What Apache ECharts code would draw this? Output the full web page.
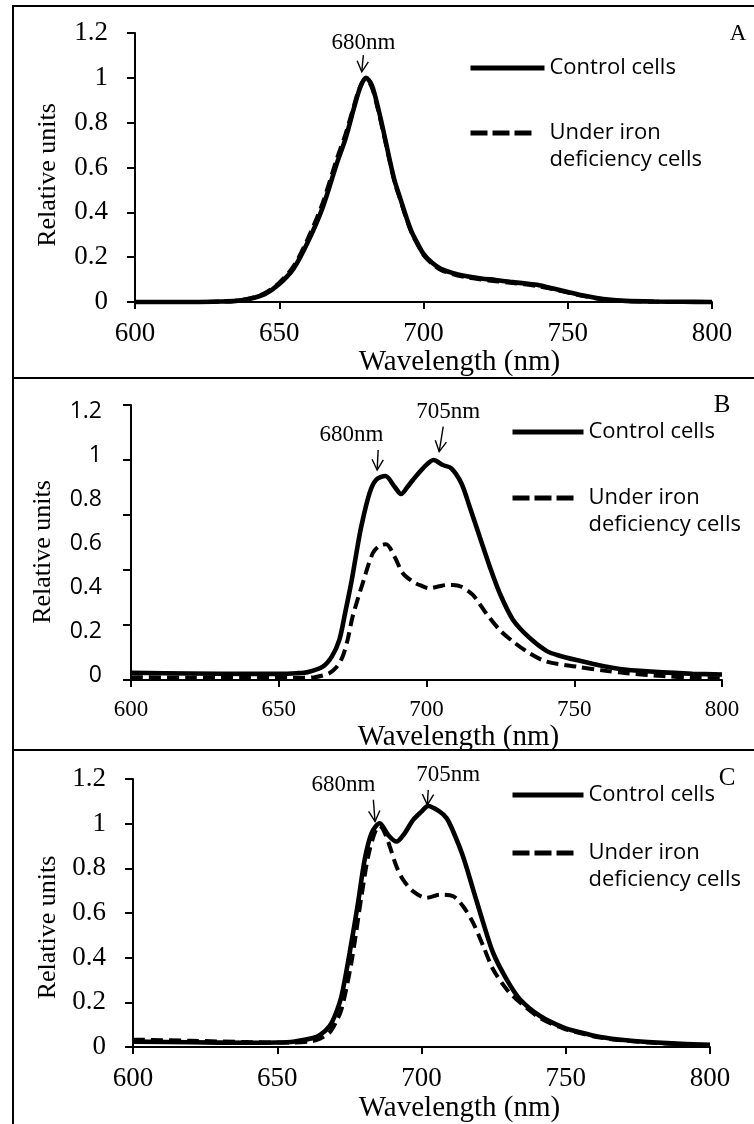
<!DOCTYPE html>
<html>
<head>
<meta charset="utf-8">
<script src="https://cdn.jsdelivr.net/npm/echarts@6/dist/echarts.min.js"></script>
<style>
  html, body { margin: 0; padding: 0; background: #fff; }
  #chart { width: 754px; height: 1124px; }
</style>
</head>
<body>
<div id="chart"></div>
<script>
// ---- panel A ----
var waveA = [600, 610, 620, 630, 635, 640, 645, 650, 655, 660, 665, 670, 673, 676, 678, 680, 682, 684, 686, 688,
  690, 692, 694, 696, 698, 700, 703, 706, 710, 715, 720, 725, 730, 735, 740, 745, 750, 755, 760, 765, 770, 780, 790, 800];
var controlA = [0, 0, 0, 0.002, 0.005, 0.015, 0.035, 0.08, 0.15, 0.27, 0.42, 0.62, 0.73, 0.87, 0.955, 1.0, 0.97, 0.88, 0.77, 0.65,
  0.54, 0.46, 0.38, 0.31, 0.26, 0.215, 0.175, 0.148, 0.13, 0.115, 0.105, 0.098, 0.09, 0.083, 0.075, 0.06, 0.045, 0.03, 0.018, 0.01, 0.005, 0.002, 0.001, 0];
var ironA = [0, 0, 0, 0.002, 0.006, 0.017, 0.04, 0.086, 0.16, 0.285, 0.44, 0.64, 0.75, 0.88, 0.96, 0.995, 0.96, 0.87, 0.76, 0.645,
  0.535, 0.455, 0.375, 0.305, 0.255, 0.21, 0.17, 0.143, 0.125, 0.11, 0.1, 0.093, 0.086, 0.079, 0.07, 0.057, 0.042, 0.028, 0.016, 0.009, 0.004, 0.001, 0, 0];

// ---- panel B ----
var waveControlB = [600, 620, 640, 650, 656, 660, 664.9, 668, 670.5, 672.5, 674.5, 676.2, 677.9, 680.7, 682.9, 686.1, 689.2, 691.4, 693.6, 695.4,
  698.8, 702.4, 705.5, 708.4, 711.8, 714.6, 718, 721.4, 724.8, 729.3, 734.9, 740.6, 745, 750.8, 760, 767, 780, 790, 800];
var controlB = [0.01, 0.007, 0.005, 0.005, 0.008, 0.014, 0.038, 0.085, 0.16, 0.285, 0.418, 0.55, 0.676, 0.828, 0.889, 0.907, 0.858, 0.825, 0.858, 0.889,
  0.942, 0.98, 0.957, 0.942, 0.874, 0.767, 0.63, 0.494, 0.372, 0.251, 0.169, 0.11, 0.088, 0.068, 0.04, 0.025, 0.012, 0.006, 0.002];
var waveIronB = [600, 620, 640, 655, 662, 665, 667.1, 669.5, 671.6, 673.3, 675, 678.4, 681.8, 684, 686.3, 689.2, 692, 695.4, 698, 701,
  704, 706.7, 709, 711.8, 715.7, 720.2, 724.8, 729.3, 734.9, 740.6, 750.8, 760, 767, 780, 790, 800];
var ironB = [-0.01, -0.012, -0.014, -0.014, -0.01, -0.002, 0.008, 0.035, 0.083, 0.16, 0.266, 0.418, 0.555, 0.588, 0.596, 0.539, 0.464, 0.425, 0.408, 0.395,
  0.403, 0.41, 0.41, 0.402, 0.365, 0.281, 0.205, 0.152, 0.099, 0.061, 0.038, 0.02, 0.009, -0.005, -0.012, -0.015];

// ---- panel C ----
var waveControlC = [600, 620, 640, 650, 656, 662.4, 665, 668.2, 670.3, 672.3, 675.1, 678, 680.3, 682.7, 685.5, 688.4, 691.3, 694.2, 697.1, 700,
  702.3, 706.3, 708.7, 711, 714.4, 717.9, 721.4, 724.8, 729.5, 734.1, 741.1, 749.1, 754.9, 762, 771, 780, 790, 800];
var controlC = [0.024, 0.021, 0.019, 0.02, 0.025, 0.04, 0.055, 0.095, 0.15, 0.229, 0.422, 0.645, 0.839, 0.958, 1.002, 0.95, 0.92, 0.958, 1.017, 1.054,
  1.079, 1.054, 1.025, 0.965, 0.853, 0.705, 0.556, 0.422, 0.303, 0.214, 0.139, 0.088, 0.066, 0.045, 0.03, 0.021, 0.014, 0.01];
var waveIronC = [600, 620, 640, 655, 662, 665, 668.2, 670.3, 672.3, 675.7, 679.2, 681.5, 683.8, 685.5, 687.2, 689, 691.3, 693.6, 697.1, 701.7,
  706.3, 711, 714.4, 717.9, 721.4, 724.8, 729.5, 734.1, 741.1, 749.1, 754.9, 762, 771, 780, 790, 800];
var ironC = [0.033, 0.028, 0.022, 0.02, 0.026, 0.038, 0.066, 0.11, 0.17, 0.378, 0.675, 0.853, 0.959, 0.99, 0.96, 0.898, 0.809, 0.749, 0.697, 0.668,
  0.682, 0.675, 0.63, 0.556, 0.452, 0.348, 0.259, 0.2, 0.13, 0.083, 0.062, 0.042, 0.028, 0.019, 0.013, 0.008];

var yLabelsB = [0, 0.2, 0.4, 0.6, 0.8, 1, 1.2];
var yTicksB = [-0.0228, 0.2279, 0.4786, 0.7293, 0.98, 1.2306];

var CONTROL = 'Control cells';
var IRON = 'Under iron\ndeficiency cells';

// peak arrows: tip in data coords, stem top / label offsets in px
var notes = [
  { grid: 0, text: '680nm', nm: 678.6, val: 1.027, sx: 1.6, sy: -16.7, tx: 1.6, ty: -28.7 },
  { grid: 1, text: '680nm', nm: 683.3, val: 0.934, sx: 1, sy: -20, tx: -25.6, ty: -35 },
  { grid: 1, text: '705nm', nm: 704.3, val: 1.018, sx: 4, sy: -25, tx: 9, ty: -40 },
  { grid: 2, text: '680nm', nm: 683.9, val: 1.01, sx: -1.7, sy: -21.7, tx: -31.7, ty: -36.7 },
  { grid: 2, text: '705nm', nm: 702.0, val: 1.084, sx: 1, sy: -15, tx: 21, ty: -30 }
];

var SERIF = '"Liberation Serif", "Times New Roman", serif';
var SANS = '"Open Sans", "Liberation Sans", sans-serif';

function pairs(xs, ys) {
  return xs.map(function (x, i) { return [x, ys[i]]; });
}

var grids = [
  { left: 135, top: 33, width: 577, height: 269 },
  { left: 131, top: 405, width: 591, height: 275 },
  { left: 133, top: 779, width: 577, height: 269 }
];

function makeX(i, size, shift, gap) {
  return {
    gridIndex: i, type: 'value', min: 600, max: 800, interval: 50,
    name: 'Wavelength (nm)', nameLocation: 'middle', nameGap: gap,
    nameTextStyle: { fontFamily: SERIF, fontSize: 29, color: '#000', padding: [0, 0, 0, shift] },
    axisLine: { show: true, onZero: false, lineStyle: { color: '#000', width: 2 } },
    axisTick: { show: true, length: 7, lineStyle: { color: '#000', width: 2 } },
    axisLabel: { fontFamily: SERIF, fontSize: size, color: '#000', margin: 18 },
    splitLine: { show: false }
  };
}

function makeY(i, down, gap) {
  return {
    gridIndex: i, type: 'value', min: 0, max: 1.2, interval: 0.2,
    name: 'Relative units', nameLocation: 'middle', nameGap: gap, nameRotate: 90,
    nameTextStyle: { fontFamily: SERIF, fontSize: 26, color: '#000', padding: [0, down, 0, 0] },
    axisLine: { show: true, onZero: false, lineStyle: { color: '#000', width: 2 } },
    axisTick: { show: true, length: 8, lineStyle: { color: '#000', width: 2 } },
    axisLabel: { fontFamily: SERIF, fontSize: 27, color: '#000', margin: 27 },
    splitLine: { show: false }
  };
}

var yB = makeY(1, 19, 75);
yB.min = yTicksB[0];
yB.max = yTicksB[yTicksB.length - 1];
delete yB.interval;
yB.axisTick.customValues = yTicksB;
yB.axisLabel = { fontFamily: SANS, fontSize: 23, color: '#000', margin: 29, customValues: yLabelsB };

function makeSeries(i, wc, vc, wi, vi) {
  return [
    {
      type: 'line', name: CONTROL, xAxisIndex: i, yAxisIndex: i, data: pairs(wc, vc),
      symbol: 'none', showSymbol: false, smooth: 0.3, clip: false,
      lineStyle: { color: '#000', width: 4.6 }, itemStyle: { color: '#000' }
    },
    {
      type: 'line', name: IRON, xAxisIndex: i, yAxisIndex: i, data: pairs(wi, vi),
      symbol: 'none', showSymbol: false, smooth: 0.3, clip: false,
      lineStyle: { color: '#000', width: 4, type: [12, 6] }, itemStyle: { color: '#000' }
    }
  ];
}

function makeLegend(left, top, width, gap) {
  return {
    orient: 'vertical', left: left, top: top, padding: 0,
    itemWidth: width, itemHeight: 14, itemGap: gap,
    selectedMode: false,
    itemStyle: { opacity: 0 },
    textStyle: { fontFamily: SANS, fontSize: 22, lineHeight: 27, color: '#000' },
    formatter: function (name) { return name === IRON ? ' \n' + name : name; },
    data: [
      { name: CONTROL, lineStyle: { width: 5 } },
      { name: IRON, lineStyle: { width: 5, type: [17, 5, 17, 5, 17, 40] } }
    ]
  };
}

var chart = echarts.init(document.getElementById('chart'));

chart.setOption({
  animation: false,
  backgroundColor: '#fff',
  grid: grids,
  xAxis: [makeX(0, 27, 72, 45), makeX(1, 23, 64, 43), makeX(2, 27, 76, 47)],
  yAxis: [makeY(0, 15, 74), yB, makeY(2, 29, 72)],
  legend: [
    makeLegend(468, 54.5, 74, 11),
    makeLegend(510, 418.5, 71, 12),
    makeLegend(510, 781.5, 71, 4)
  ],
  series: [].concat(
    makeSeries(0, waveA, controlA, waveA, ironA),
    makeSeries(1, waveControlB, controlB, waveIronB, ironB),
    makeSeries(2, waveControlC, controlC, waveIronC, ironC)
  )
});

// frames and panel letters
var graphics = [
  { type: 'rect', shape: { x: 13, y: 6, width: 800, height: 372 }, style: { fill: 'none', stroke: '#000', lineWidth: 2 } },
  { type: 'rect', shape: { x: 13, y: 378, width: 800, height: 372 }, style: { fill: 'none', stroke: '#000', lineWidth: 2 } },
  { type: 'rect', shape: { x: 13, y: 750, width: 800, height: 400 }, style: { fill: 'none', stroke: '#000', lineWidth: 2 } },
  { type: 'text', x: 738, y: 34, style: { text: 'A', font: '23px ' + SERIF, fill: '#000', align: 'center', verticalAlign: 'middle' } },
  { type: 'text', x: 722, y: 405, style: { text: 'B', font: '25px ' + SERIF, fill: '#000', align: 'center', verticalAlign: 'middle' } },
  { type: 'text', x: 727, y: 778, style: { text: 'C', font: '25px ' + SERIF, fill: '#000', align: 'center', verticalAlign: 'middle' } }
];

// arrows pointing at the peaks
notes.forEach(function (n) {
  var tip = chart.convertToPixel({ gridIndex: n.grid }, [n.nm, n.val]);
  var top = [tip[0] + n.sx, tip[1] + n.sy];
  var len = Math.sqrt(n.sx * n.sx + n.sy * n.sy);
  var ux = n.sx / len, uy = n.sy / len;
  var a = 28 * Math.PI / 180, arm = 12;
  var l = [tip[0] + arm * (ux * Math.cos(a) - uy * Math.sin(a)), tip[1] + arm * (ux * Math.sin(a) + uy * Math.cos(a))];
  var r = [tip[0] + arm * (ux * Math.cos(-a) - uy * Math.sin(-a)), tip[1] + arm * (ux * Math.sin(-a) + uy * Math.cos(-a))];
  graphics.push({ type: 'line', shape: { x1: top[0], y1: top[1], x2: tip[0], y2: tip[1] }, style: { stroke: '#000', lineWidth: 1.4 } });
  graphics.push({ type: 'polyline', shape: { points: [l, tip, r] }, style: { stroke: '#000', lineWidth: 1.4, fill: 'none' } });
  graphics.push({
    type: 'text', x: tip[0] + n.tx, y: tip[1] + n.ty,
    style: { text: n.text, font: '23px ' + SERIF, fill: '#000', align: 'center', verticalAlign: 'middle' }
  });
});

chart.setOption({ graphic: graphics });
</script>
</body>
</html>
